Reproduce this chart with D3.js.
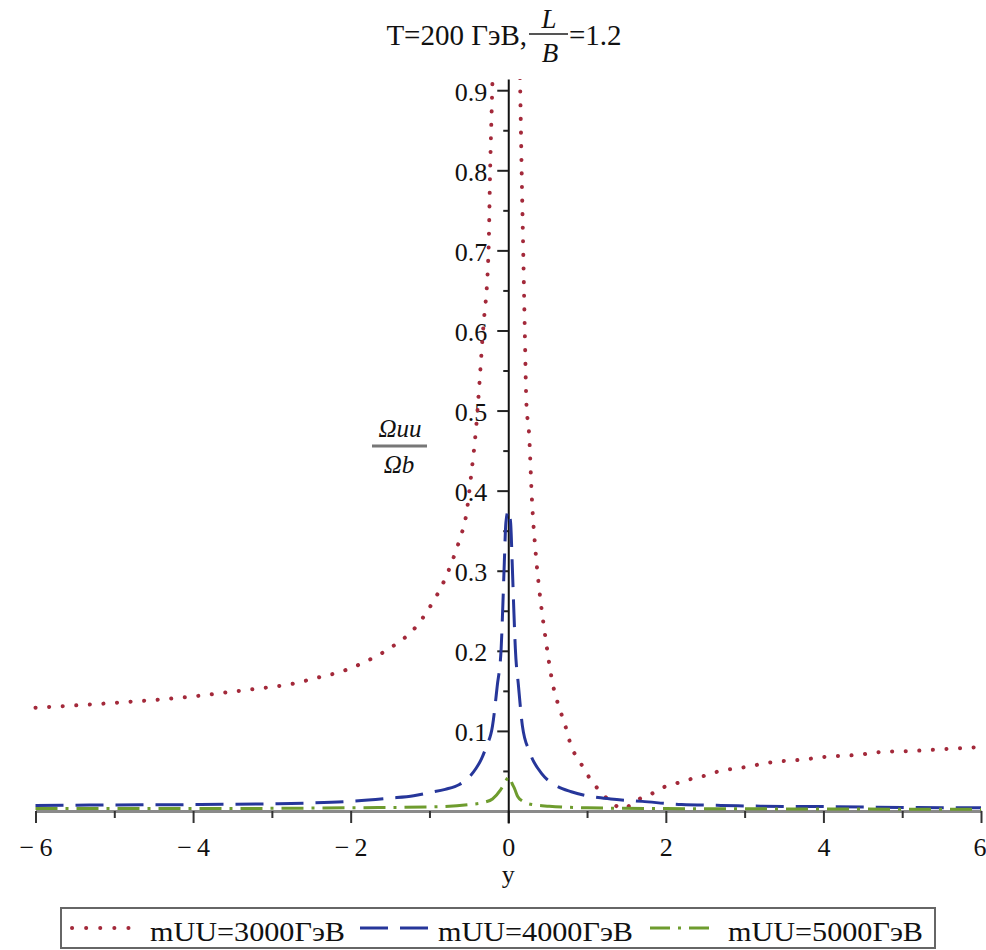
<!DOCTYPE html>
<html lang="ru">
<head>
<meta charset="UTF-8">
<title>Ωuu/Ωb</title>
<script src="https://d3js.org/d3.v7.min.js"></script>
<style>
  body { margin: 0; background: #fff; }
</style>
</head>
<body>
<div id="chart"></div>
<script>
// ---- данные ----
const seriesNames = ["mUU=3000ГэВ", "mUU=4000ГэВ", "mUU=5000ГэВ"];

// mUU=3000 (точки), разрыв при y≈0 (уходит за верх)
const y3000 = [-6, -5, -4, -3.5, -3, -2.78, -2.44, -2.09, -1.76, -1.46, -1.18, -0.98, -0.81, -0.7, -0.62, -0.53, -0.47, -0.41, -0.32, -0.25, -0.23, -0.2, -0.18,
  0,
  0.13, 0.15, 0.17, 0.19, 0.21, 0.23, 0.265, 0.3, 0.35, 0.39, 0.48, 0.56, 0.65, 0.71, 0.81, 0.9, 1.0, 1.11, 1.22, 1.35, 1.47, 1.6, 1.81, 1.98, 2.15, 2.32, 2.49, 2.65, 3.02, 3.35, 3.72, 4.07, 4.43, 4.77, 5.13, 5.49, 5.84, 6];
const v3000 = [0.129, 0.135, 0.143, 0.149, 0.155, 0.158, 0.166, 0.175, 0.189, 0.206, 0.229, 0.257, 0.288, 0.315, 0.338, 0.372, 0.42, 0.476, 0.6, 0.70, 0.80, 0.914, 1.0,
  null,
  1.0, 0.91, 0.80, 0.70, 0.60, 0.51, 0.47, 0.39, 0.32, 0.28, 0.211, 0.161, 0.128, 0.111, 0.078, 0.063, 0.046, 0.031, 0.019, 0.0075, 0.003, 0.012, 0.021, 0.030, 0.035, 0.040, 0.044, 0.049, 0.055, 0.061, 0.064, 0.068, 0.070, 0.074, 0.075, 0.077, 0.079, 0.080];

// mUU=4000 (штрихи)
const y4000 = [-6, -5, -4, -3, -2.5, -2, -1.5, -1.2, -1, -0.8, -0.62, -0.5, -0.41, -0.34, -0.28, -0.2, -0.14, -0.09, -0.07, -0.05, -0.03, 0, 0.03, 0.05, 0.07, 0.09, 0.13, 0.18, 0.27, 0.43, 0.6, 0.8, 1, 1.3, 1.7, 2.2, 2.7, 3.2, 4, 5, 6];
const v4000 = [0.007, 0.0075, 0.008, 0.009, 0.010, 0.012, 0.016, 0.019, 0.023, 0.027, 0.033, 0.042, 0.053, 0.065, 0.080, 0.106, 0.156, 0.203, 0.253, 0.31, 0.36, 0.375, 0.36, 0.31, 0.253, 0.203, 0.156, 0.106, 0.074, 0.046, 0.032, 0.024, 0.019, 0.015, 0.012, 0.008, 0.007, 0.006, 0.0055, 0.0045, 0.004];

// mUU=5000 (штрих-пунктир)
const y5000 = [-6, -4, -2, -1, -0.5, -0.3, -0.2, -0.1, -0.05, 0.01, 0.05, 0.08, 0.12, 0.18, 0.3, 0.52, 1, 2, 4, 6];
const v5000 = [0.003, 0.003, 0.004, 0.005, 0.008, 0.011, 0.015, 0.026, 0.034, 0.043, 0.034, 0.028, 0.018, 0.0125, 0.008, 0.006, 0.004, 0.003, 0.0025, 0.002];

const xMajor = [-6, -4, -2, 0, 2, 4, 6];
const xMinor = [-5, -3, -1, 1, 3, 5];
const yMajor = [0.1, 0.2, 0.3, 0.4, 0.5, 0.6, 0.7, 0.8, 0.9];
const yMinor = [0.05, 0.15, 0.25, 0.35, 0.45, 0.55, 0.65, 0.75, 0.85];

const W = 986, H = 950;
const FONT = '"Liberation Serif"';
const colors = ["#a3293a", "#26369a", "#6e9c2e"];
const dashes = ["0.1 13.5", "28 12", "22 8 3 8"];

const svg = d3.select("#chart").append("svg")
  .attr("width", W).attr("height", H);

const x = d3.scaleLinear().domain([-6, 6]).range([35.5, 981]);
const y = d3.scaleLinear().domain([-0.015, 0.914]).range([823, 79]);

svg.append("clipPath").attr("id", "clip")
  .append("rect").attr("x", 0).attr("y", y(0.914)).attr("width", W).attr("height", y(-0.015) - y(0.914));

// ось x
const fmtX = d => d < 0 ? "\u2212\u2009" + Math.abs(d) : String(d);
const gx = svg.append("g").attr("transform", `translate(0,${y(0)})`)
  .call(d3.axisBottom(x).tickValues(xMajor).tickSize(12).tickSizeOuter(0).tickFormat(fmtX));
gx.select(".domain").attr("stroke", "#8a8a8a").attr("stroke-width", 3);
gx.selectAll(".tick line").attr("stroke", "#333").attr("stroke-width", 2);
gx.selectAll(".tick text").style("font-family", FONT).style("font-size", "26px")
  .attr("fill", "#111").attr("y", 45).attr("dy", 0)
  .attr("text-anchor", d => d === 6 ? "end" : "middle")
  .attr("x", d => d === 6 ? 5 : 0);
svg.append("g").attr("transform", `translate(0,${y(0)})`)
  .call(d3.axisBottom(x).tickValues(xMinor).tickSize(7).tickFormat(""))
  .call(g => g.select(".domain").remove())
  .selectAll(".tick line").attr("stroke", "#333").attr("stroke-width", 2);

// ось y
const gy = svg.append("g").attr("transform", `translate(${x(0)},0)`)
  .call(d3.axisLeft(y).tickValues(yMajor).tickSize(11).tickSizeOuter(0).tickFormat(d3.format(".1f")));
gy.select(".domain").attr("stroke", "#111").attr("stroke-width", 2);
gy.selectAll(".tick line").attr("stroke", "#222").attr("stroke-width", 2);
gy.selectAll(".tick text").style("font-family", FONT).style("font-size", "26px")
  .attr("fill", "#111").attr("x", -21).attr("dy", 10);
svg.append("g").attr("transform", `translate(${x(0)},0)`)
  .call(d3.axisLeft(y).tickValues(yMinor).tickSize(5).tickFormat(""))
  .call(g => g.select(".domain").remove())
  .selectAll(".tick line").attr("stroke", "#222").attr("stroke-width", 2);

// кривые
const series = [
  { xs: y3000, vs: v3000 },
  { xs: y4000, vs: v4000 },
  { xs: y5000, vs: v5000 }
];
const line = d3.line()
  .defined(d => d[1] !== null)
  .x(d => x(d[0])).y(d => y(d[1]))
  .curve(d3.curveMonotoneX);

series.forEach((s, i) => {
  const pts = s.xs.map((v, k) => [v, s.vs[k]]);
  svg.append("path")
    .attr("clip-path", "url(#clip)")
    .attr("d", line(pts))
    .attr("fill", "none")
    .attr("stroke", colors[i])
    .attr("stroke-width", i === 0 ? 4 : 3)
    .attr("stroke-dasharray", dashes[i])
    .attr("stroke-linecap", i === 0 ? "round" : "butt");
});

// текст с шрифтом
function label(px, py, size, str, anchor, italic) {
  return svg.append("text").attr("x", px).attr("y", py)
    .attr("text-anchor", anchor || "start")
    .style("font-family", FONT).style("font-size", size + "px")
    .style("font-style", italic ? "italic" : "normal")
    .attr("fill", "#111")
    .text(str);
}

// заголовок
label(527, 45, 29, "T=200 ГэВ,", "end");
label(549, 28, 27, "L", "middle", true);
svg.append("line").attr("x1", 529).attr("x2", 568).attr("y1", 34).attr("y2", 34)
  .attr("stroke", "#555").attr("stroke-width", 2);
label(550, 62, 27, "B", "middle", true);
label(569, 45, 29, "=1.2");

// подпись оси y
label(400, 437, 25, "Ωuu", "middle", true);
svg.append("line").attr("x1", 372).attr("x2", 427).attr("y1", 446).attr("y2", 446)
  .attr("stroke", "#777").attr("stroke-width", 3);
label(399, 473, 25, "Ωb", "middle", true);

// подпись оси x
label(x(0), 883, 26, "y", "middle");

// легенда
svg.append("rect").attr("x", 61).attr("y", 908).attr("width", 874).attr("height", 40)
  .attr("fill", "#fff").attr("stroke", "#666").attr("stroke-width", 2);
const legendItems = [
  { x1: 72, x2: 130, tx: 150 },
  { x1: 360, x2: 428, tx: 438 },
  { x1: 650, x2: 711, tx: 728 }
];
const legendDash = ["0.1 14", "28 12", "20 8 3 8"];
legendItems.forEach((it, i) => {
  svg.append("line").attr("x1", it.x1).attr("x2", it.x2).attr("y1", 928).attr("y2", 928)
    .attr("stroke", colors[i]).attr("stroke-width", i === 0 ? 4 : 3)
    .attr("stroke-dasharray", legendDash[i])
    .attr("stroke-linecap", i === 0 ? "round" : "butt");
  label(it.tx, 941, 28, seriesNames[i])
    .attr("textLength", 195).attr("lengthAdjust", "spacingAndGlyphs");
});
</script>
</body>
</html>
